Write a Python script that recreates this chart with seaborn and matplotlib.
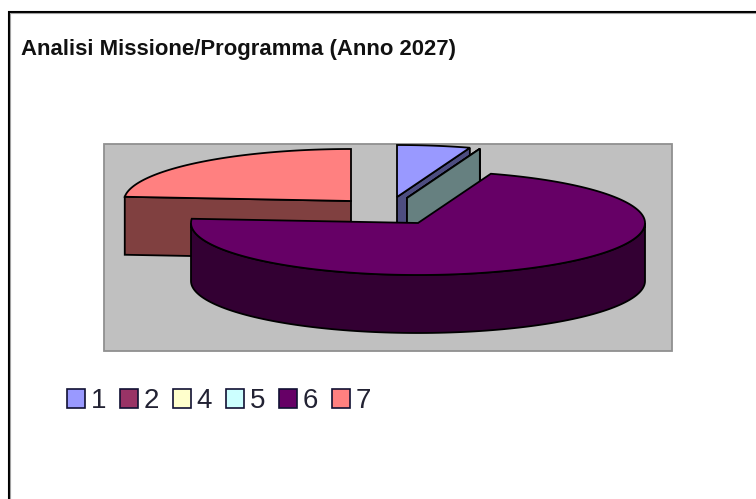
import numpy as np
import matplotlib
matplotlib.use("Agg")
import matplotlib.pyplot as plt
import seaborn as sns
from matplotlib.patches import Patch, Polygon, Rectangle

# chart data
categories = ["1", "2", "4", "5", "6", "7"]
shares = [5.2, 0, 0, 0, 71.1, 23.7]
slice_colors = ["#9999FF", "#993366", "#FFFFCC", "#CCFFFF", "#660066", "#FF8080"]
title = "Analisi Missione/Programma (Anno 2027)"

# layout, in pixels of the 756x499 picture
RADIUS_X = 227
RADIUS_Y = 52
DEPTH = 58
APEX = [(397, 197), (407, 198), (407, 198), (407, 198), (418, 223), (351, 201)]


def rim(apex, angles):
    # angles run clockwise from north
    rad = np.radians(angles)
    return np.column_stack([apex[0] + RADIUS_X * np.sin(rad),
                            apex[1] - RADIUS_Y * np.cos(rad)])


def draw_slice(ax, apex, start, end, color):
    top = np.array(color)
    side = top * 0.5
    down = np.array([0, DEPTH])
    apex_pt = np.array(apex, dtype=float)

    # front wall, only the part between 90 and 270 degrees faces the viewer
    lo, hi = max(start, 90), min(end, 270)
    if hi > lo:
        arc = rim(apex, np.linspace(lo, hi, 120))
        ax.add_patch(Polygon(np.vstack([arc, arc[::-1] + down]), closed=True,
                             fc=side, ec="black", lw=1.3))

    # cut faces
    for angle, visible in ((start, start > 180), (end, end < 180)):
        if visible:
            p = rim(apex, [angle])[0]
            ax.add_patch(Polygon([apex_pt, p, p + down, apex_pt + down], closed=True,
                                 fc=side, ec="black", lw=1.3))

    if end > start:
        arc = rim(apex, np.linspace(start, end, 200))
        ax.add_patch(Polygon(np.vstack([apex_pt, arc]), closed=True,
                             fc=top, ec="black", lw=1.3))


def main():
    sns.set_theme(style="white")
    plt.rcParams["font.family"] = ["Liberation Sans", "DejaVu Sans"]
    palette = sns.color_palette(slice_colors)

    fig = plt.figure(figsize=(7.56, 4.99), dpi=100)
    ax = fig.add_axes([0, 0, 1, 1])
    ax.set_xlim(0, 756)
    ax.set_ylim(499, 0)
    ax.axis("off")

    # chart frame, only top and left show
    ax.plot([8.5, 8.5, 756], [499, 11.5, 11.5], color="black", lw=1.5, solid_joinstyle="miter")
    ax.plot([10, 10, 756], [499, 13, 13], color="#A0A0A0", lw=0.8, solid_joinstyle="miter")

    ax.text(21, 54.5, title, fontsize=15.9, fontweight="bold", color="#111111", va="baseline")

    ax.add_patch(Rectangle((104, 144), 568, 207, fc="#C0C0C0", ec="#909090", lw=1.3))

    edges = np.cumsum([0] + shares) / sum(shares) * 360
    # back slices first so the big one sits in front
    for i in [5, 0, 1, 2, 3, 4]:
        draw_slice(ax, APEX[i], edges[i], edges[i + 1], palette[i])

    handles = [Patch(fc=c, ec="#111133", lw=1.2, label=lab) for c, lab in zip(palette, categories)]
    ax.legend(handles=handles, ncol=6, frameon=False, fontsize=20,
              loc="center left", bbox_to_anchor=(67, 401), bbox_transform=ax.transData,
              handlelength=0.65, handleheight=0.65, handletextpad=0.2,
              columnspacing=0.5, borderpad=0, borderaxespad=0, labelcolor="#222233")

    fig.savefig("out.png", dpi=100)


if __name__ == "__main__":
    main()
